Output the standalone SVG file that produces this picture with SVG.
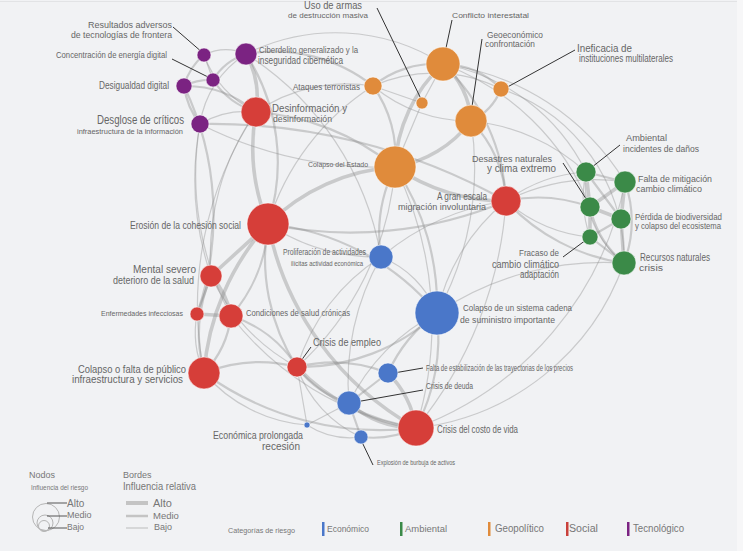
<svg xmlns="http://www.w3.org/2000/svg" width="743" height="551" viewBox="0 0 743 551">
<style>
text{font-family:"Liberation Sans",Arial,sans-serif;fill:#666}
.lg{fill:#777}
#edges path{fill:none;stroke:#8a8a8a;stroke-opacity:.38;stroke-linecap:round}
.e1{stroke-width:1.2}.e2{stroke-width:2.2}.e3{stroke-width:3.6}
.ld{stroke:#333;stroke-width:1;fill:none}
circle{stroke:#fff;stroke-opacity:.55;stroke-width:1}
.tec{fill:#7b2382}.soc{fill:#d63e39}.geo{fill:#e08b3b}.eco{fill:#4a77c9}.env{fill:#3b8a48}
.lc{fill:none;stroke:#b5b5b5;stroke-opacity:1}
</style>
<rect width="743" height="551" fill="#f1f2f4"/>
<line x1="0" y1="1.5" x2="743" y2="1.5" stroke="#e2e3e5"/>
<rect x="737" y="0" width="6" height="551" fill="#f7f7f8"/>
<g id="edges">
<path class="e1" d="M204 55A50 50 0 0 1 246 54"/>
<path class="e1" d="M204 55L213 80"/>
<path class="e2" d="M204 55A60 60 0 0 0 184 86"/>
<path class="e2" d="M184 86A60 60 0 0 1 213 80"/>
<path class="e2" d="M213 80A60 60 0 0 1 246 54"/>
<path class="e2" d="M184 86A80 80 0 0 0 200 124"/>
<path class="e3" d="M246 54A90 90 0 0 1 256 112"/>
<path class="e2" d="M213 80A80 80 0 0 0 256 112"/>
<path class="e2" d="M184 86A110 110 0 0 1 256 112"/>
<path class="e1" d="M200 124A90 90 0 0 1 256 112"/>
<path class="e1" d="M204 55A100 100 0 0 0 256 112"/>
<path class="e1" d="M246 54A100 100 0 0 0 200 124"/>
<path class="e1" d="M246 54A200 200 0 0 1 443 64"/>
<path class="e2" d="M246 54A160 160 0 0 1 373 86"/>
<path class="e1" d="M256 112A160 160 0 0 1 373 86"/>
<path class="e2" d="M200 124A600 600 0 0 1 506 201"/>
<path class="e1" d="M200 124A300 300 0 0 0 211 276"/>
<path class="e2" d="M184 86A300 300 0 0 1 197 314"/>
<path class="e1" d="M256 112A350 350 0 0 0 204 373"/>
<path class="e2" d="M246 54A200 200 0 0 1 268 224"/>
<path class="e3" d="M256 112A200 200 0 0 0 268 224"/>
<path class="e2" d="M256 112A250 250 0 0 1 395 167"/>
<path class="e1" d="M256 112A250 250 0 0 0 211 276"/>
<path class="e1" d="M200 124A300 300 0 0 0 231 316"/>
<path class="e1" d="M246 54A300 300 0 0 1 381 257"/>
<path class="e1" d="M200 124A400 400 0 0 0 395 167"/>
<path class="e2" d="M443 64A100 100 0 0 0 373 86"/>
<path class="e3" d="M443 64A80 80 0 0 1 471 121"/>
<path class="e1" d="M443 64L422 103"/>
<path class="e2" d="M443 64A80 80 0 0 1 501 89"/>
<path class="e3" d="M443 64A150 150 0 0 0 395 167"/>
<path class="e2" d="M373 86A120 120 0 0 1 395 167"/>
<path class="e1" d="M373 86A150 150 0 0 0 471 121"/>
<path class="e1" d="M422 103L395 167"/>
<path class="e2" d="M501 89A60 60 0 0 1 471 121"/>
<path class="e3" d="M471 121A120 120 0 0 1 395 167"/>
<path class="e2" d="M471 121A120 120 0 0 1 506 201"/>
<path class="e3" d="M395 167A200 200 0 0 0 506 201"/>
<path class="e3" d="M395 167A200 200 0 0 0 268 224"/>
<path class="e2" d="M395 167A150 150 0 0 0 381 257"/>
<path class="e2" d="M395 167A250 250 0 0 1 437 313"/>
<path class="e2" d="M443 64A200 200 0 0 1 506 201"/>
<path class="e1" d="M501 89A180 180 0 0 1 624 263"/>
<path class="e1" d="M443 64A250 250 0 0 1 625 182"/>
<path class="e1" d="M373 86A150 150 0 0 1 501 89"/>
<path class="e1" d="M471 121A300 300 0 0 1 437 313"/>
<path class="e1" d="M443 64A250 250 0 0 1 590 207"/>
<path class="e1" d="M373 86A250 250 0 0 0 268 224"/>
<path class="e1" d="M395 167A300 300 0 0 1 297 367"/>
<path class="e1" d="M395 167A350 350 0 0 1 416 428"/>
<path class="e1" d="M373 86L422 103"/>
<path class="e2" d="M268 224A400 400 0 0 0 506 201"/>
<path class="e3" d="M268 224L211 276"/>
<path class="e2" d="M268 224A150 150 0 0 1 231 316"/>
<path class="e3" d="M268 224A250 250 0 0 0 204 373"/>
<path class="e2" d="M268 224A200 200 0 0 0 297 367"/>
<path class="e3" d="M268 224A300 300 0 0 0 416 428"/>
<path class="e1" d="M268 224A200 200 0 0 0 381 257"/>
<path class="e2" d="M268 224A250 250 0 0 1 437 313"/>
<path class="e3" d="M211 276A80 80 0 0 1 231 316"/>
<path class="e2" d="M211 276L197 314"/>
<path class="e3" d="M197 314L231 316"/>
<path class="e2" d="M231 316A100 100 0 0 1 204 373"/>
<path class="e2" d="M204 373A150 150 0 0 1 297 367"/>
<path class="e2" d="M204 373A300 300 0 0 0 416 428"/>
<path class="e3" d="M297 367A200 200 0 0 0 416 428"/>
<path class="e2" d="M297 367A100 100 0 0 0 349 403"/>
<path class="e2" d="M297 367A150 150 0 0 1 388 373"/>
<path class="e1" d="M297 367L307 425"/>
<path class="e2" d="M297 367A120 120 0 0 0 231 316"/>
<path class="e2" d="M211 276A150 150 0 0 0 204 373"/>
<path class="e1" d="M506 201A250 250 0 0 0 381 257"/>
<path class="e1" d="M506 201A200 200 0 0 0 437 313"/>
<path class="e2" d="M506 201A150 150 0 0 1 590 207"/>
<path class="e1" d="M506 201A150 150 0 0 1 586 172"/>
<path class="e1" d="M506 201A200 200 0 0 1 625 182"/>
<path class="e2" d="M506 201A200 200 0 0 0 624 263"/>
<path class="e1" d="M506 201A150 150 0 0 0 590 237"/>
<path class="e1" d="M506 201A400 400 0 0 1 416 428"/>
<path class="e1" d="M211 276A200 200 0 0 0 297 367"/>
<path class="e1" d="M231 316A300 300 0 0 0 416 428"/>
<path class="e1" d="M197 314A100 100 0 0 0 204 373"/>
<path class="e2" d="M437 313A150 150 0 0 0 388 373"/>
<path class="e2" d="M437 313A200 200 0 0 1 416 428"/>
<path class="e1" d="M437 313A200 200 0 0 0 349 403"/>
<path class="e3" d="M388 373A100 100 0 0 1 416 428"/>
<path class="e2" d="M388 373L349 403"/>
<path class="e3" d="M349 403A100 100 0 0 0 416 428"/>
<path class="e2" d="M349 403L361 437"/>
<path class="e2" d="M361 437A100 100 0 0 0 416 428"/>
<path class="e1" d="M307 425L349 403"/>
<path class="e1" d="M307 425A80 80 0 0 0 361 437"/>
<path class="e1" d="M381 257A100 100 0 0 1 437 313"/>
<path class="e1" d="M437 313A300 300 0 0 1 624 263"/>
<path class="e1" d="M416 428A250 250 0 0 0 624 263"/>
<path class="e2" d="M437 313A200 200 0 0 1 297 367"/>
<path class="e1" d="M381 257A200 200 0 0 0 297 367"/>
<path class="e1" d="M381 257A250 250 0 0 0 349 403"/>
<path class="e1" d="M297 367A120 120 0 0 0 361 437"/>
<path class="e1" d="M204 373A150 150 0 0 0 307 425"/>
<path class="e2" d="M586 172L625 182"/>
<path class="e3" d="M586 172L590 207"/>
<path class="e2" d="M586 172L621 219"/>
<path class="e3" d="M625 182L590 207"/>
<path class="e3" d="M625 182L621 219"/>
<path class="e2" d="M625 182A120 120 0 0 1 624 263"/>
<path class="e3" d="M590 207L621 219"/>
<path class="e3" d="M590 207L590 237"/>
<path class="e2" d="M621 219L590 237"/>
<path class="e3" d="M621 219L624 263"/>
<path class="e2" d="M590 237L624 263"/>
<path class="e2" d="M590 207A100 100 0 0 0 624 263"/>
<path class="e1" d="M586 172A100 100 0 0 0 624 263"/>
<path class="e1" d="M586 172A120 120 0 0 0 590 237"/>
<path class="e1" d="M471 121A200 200 0 0 1 586 172"/>
<path class="e1" d="M416 428A330 330 0 0 0 625 182"/>
<path class="e1" d="M443 64A200 200 0 0 1 586 172"/>
</g>
<g id="n-resultados"><line class="ld" x1="173" y1="27" x2="203" y2="53"/><circle class="tec" cx="204" cy="55" r="7"/><text x="88" y="27.5" font-size="9.5" textLength="84" lengthAdjust="spacingAndGlyphs">Resultados adversos</text><text x="71" y="37.5" font-size="9.5" textLength="101" lengthAdjust="spacingAndGlyphs">de tecnologías de frontera</text></g>
<g id="n-ciberdelito"><circle class="tec" cx="246" cy="54" r="11"/><text x="259" y="52.5" font-size="8.5" textLength="99" lengthAdjust="spacingAndGlyphs">Ciberdelito generalizado y la</text><text x="258" y="63.5" font-size="10" textLength="85" lengthAdjust="spacingAndGlyphs">inseguridad cibernética</text></g>
<g id="n-concentracion"><line class="ld" x1="172" y1="59" x2="212" y2="79"/><circle class="tec" cx="213" cy="80" r="7"/><text x="56" y="58" font-size="9" textLength="111" lengthAdjust="spacingAndGlyphs">Concentración de energía digital</text></g>
<g id="n-desigualdad"><circle class="tec" cx="184" cy="86" r="8"/><text x="99" y="89" font-size="10" textLength="70" lengthAdjust="spacingAndGlyphs">Desigualdad digital</text></g>
<g id="n-desglose"><circle class="tec" cx="200" cy="124" r="9"/><text x="97" y="123.5" font-size="12" textLength="87" lengthAdjust="spacingAndGlyphs">Desglose de críticos</text><text x="77" y="133.5" font-size="7.5" textLength="106" lengthAdjust="spacingAndGlyphs">infraestructura de la información</text></g>
<g id="n-desinformacion"><circle class="soc" cx="256" cy="112" r="15"/><text x="272" y="111.5" font-size="11" textLength="75" lengthAdjust="spacingAndGlyphs">Desinformación y</text><text x="273" y="121.5" font-size="8.5" textLength="59" lengthAdjust="spacingAndGlyphs">desinformación</text></g>
<g id="n-armas"><line class="ld" x1="377" y1="8" x2="422" y2="101"/><circle class="geo" cx="422" cy="103" r="6"/><text x="304" y="9" font-size="10" textLength="58" lengthAdjust="spacingAndGlyphs">Uso de armas</text><text x="288" y="18" font-size="8" textLength="80" lengthAdjust="spacingAndGlyphs">de destrucción masiva</text></g>
<g id="n-ataques"><circle class="geo" cx="373" cy="86" r="9"/><text x="293" y="90" font-size="9.5" textLength="67" lengthAdjust="spacingAndGlyphs">Ataques terroristas</text></g>
<g id="n-conflicto"><line class="ld" x1="452" y1="20" x2="443" y2="62"/><circle class="geo" cx="443" cy="64" r="17"/><text x="452" y="18" font-size="8" textLength="77" lengthAdjust="spacingAndGlyphs">Conflicto interestatal</text></g>
<g id="n-geoeconomico"><line class="ld" x1="482" y1="39" x2="470" y2="120"/><circle class="geo" cx="471" cy="121" r="16"/><text x="487" y="37.5" font-size="9.5" textLength="56" lengthAdjust="spacingAndGlyphs">Geoeconómico</text><text x="485" y="47" font-size="8.5" textLength="50" lengthAdjust="spacingAndGlyphs">confrontación</text></g>
<g id="n-ineficacia"><line class="ld" x1="575" y1="50" x2="502" y2="90"/><circle class="geo" cx="501" cy="89" r="8"/><text x="577" y="51.5" font-size="11.5" textLength="55" lengthAdjust="spacingAndGlyphs">Ineficacia de</text><text x="579" y="62" font-size="10" textLength="94" lengthAdjust="spacingAndGlyphs">instituciones multilaterales</text></g>
<g id="n-estado"><circle class="geo" cx="395" cy="167" r="21"/><text x="308" y="167" font-size="8" textLength="60" lengthAdjust="spacingAndGlyphs">Colapso del Estado</text></g>
<g id="n-migracion"><circle class="soc" cx="506" cy="201" r="15"/><text x="437" y="199.5" font-size="10" textLength="50" lengthAdjust="spacingAndGlyphs">A gran escala</text><text x="398" y="209.5" font-size="9.5" textLength="88" lengthAdjust="spacingAndGlyphs">migración involuntaria</text></g>
<g id="n-ambiental"><line class="ld" x1="620" y1="145" x2="587" y2="171"/><circle class="env" cx="586" cy="172" r="10"/><text x="626" y="141" font-size="8.5" textLength="41" lengthAdjust="spacingAndGlyphs">Ambiental</text><text x="623" y="152" font-size="9" textLength="76" lengthAdjust="spacingAndGlyphs">incidentes de daños</text></g>
<g id="n-mitigacion"><circle class="env" cx="625" cy="182" r="11"/><text x="638" y="181.5" font-size="9.5" textLength="74" lengthAdjust="spacingAndGlyphs">Falta de mitigación</text><text x="636" y="191.5" font-size="9.5" textLength="66" lengthAdjust="spacingAndGlyphs">cambio climático</text></g>
<g id="n-desastres"><line class="ld" x1="563" y1="163" x2="590" y2="205"/><circle class="env" cx="590" cy="207" r="10"/><text x="472" y="161.5" font-size="9.5" textLength="80" lengthAdjust="spacingAndGlyphs">Desastres naturales</text><text x="487" y="172" font-size="10" textLength="69" lengthAdjust="spacingAndGlyphs">y clima extremo</text></g>
<g id="n-biodiversidad"><circle class="env" cx="621" cy="219" r="10"/><text x="635" y="219.5" font-size="9" textLength="87" lengthAdjust="spacingAndGlyphs">Pérdida de biodiversidad</text><text x="635" y="229" font-size="9" textLength="86" lengthAdjust="spacingAndGlyphs">y colapso del ecosistema</text></g>
<g id="n-adaptacion"><line class="ld" x1="563" y1="257" x2="590" y2="237"/><circle class="env" cx="590" cy="237" r="8"/><text x="519" y="256" font-size="8.5" textLength="40" lengthAdjust="spacingAndGlyphs">Fracaso de</text><text x="492" y="267.5" font-size="10.5" textLength="67" lengthAdjust="spacingAndGlyphs">cambio climático</text><text x="520" y="278" font-size="10" textLength="39" lengthAdjust="spacingAndGlyphs">adaptación</text></g>
<g id="n-recursos"><circle class="env" cx="624" cy="263" r="12"/><text x="640" y="261" font-size="10" textLength="70" lengthAdjust="spacingAndGlyphs">Recursos naturales</text><text x="639" y="270.5" font-size="8.5" textLength="24" lengthAdjust="spacingAndGlyphs">crisis</text></g>
<g id="n-erosion"><circle class="soc" cx="268" cy="224" r="21"/><text x="130" y="229" font-size="10" textLength="111" lengthAdjust="spacingAndGlyphs">Erosión de la cohesión social</text></g>
<g id="n-proliferacion"><circle class="eco" cx="381" cy="257" r="12"/><text x="283" y="255" font-size="8.5" textLength="83" lengthAdjust="spacingAndGlyphs">Proliferación de actividades</text><text x="291" y="266" font-size="7.5" textLength="72" lengthAdjust="spacingAndGlyphs">ilícitas actividad económica</text></g>
<g id="n-mental"><circle class="soc" cx="211" cy="276" r="11"/><text x="133" y="273" font-size="11" textLength="63" lengthAdjust="spacingAndGlyphs">Mental severo</text><text x="113" y="284" font-size="10" textLength="81" lengthAdjust="spacingAndGlyphs">deterioro de la salud</text></g>
<g id="n-infecciosas"><circle class="soc" cx="197" cy="314" r="7"/><text x="101" y="316" font-size="8" textLength="82" lengthAdjust="spacingAndGlyphs">Enfermedades infecciosas</text></g>
<g id="n-cronicas"><circle class="soc" cx="231" cy="316" r="12"/><text x="246" y="316" font-size="9" textLength="104" lengthAdjust="spacingAndGlyphs">Condiciones de salud crónicas</text></g>
<g id="n-infraestructura"><circle class="soc" cx="204" cy="373" r="16"/><text x="78" y="372.5" font-size="10.5" textLength="108" lengthAdjust="spacingAndGlyphs">Colapso o falta de público</text><text x="72" y="383" font-size="10" textLength="111" lengthAdjust="spacingAndGlyphs">infraestructura y servicios</text></g>
<g id="n-empleo"><line class="ld" x1="311" y1="347" x2="298" y2="365"/><circle class="soc" cx="297" cy="367" r="10"/><text x="313" y="346" font-size="10" textLength="68" lengthAdjust="spacingAndGlyphs">Crisis de empleo</text></g>
<g id="n-suministro"><circle class="eco" cx="437" cy="313" r="22"/><text x="463" y="311" font-size="9" textLength="109" lengthAdjust="spacingAndGlyphs">Colapso de un sistema cadena</text><text x="460" y="322.5" font-size="9.5" textLength="95" lengthAdjust="spacingAndGlyphs">de suministro importante</text></g>
<g id="n-precios"><line class="ld" x1="423" y1="368" x2="388" y2="374"/><circle class="eco" cx="388" cy="373" r="10"/><text x="426" y="371" font-size="9" textLength="147" lengthAdjust="spacingAndGlyphs">Falta de estabilización de las trayectorias de los precios</text></g>
<g id="n-deuda"><line class="ld" x1="423" y1="390" x2="350" y2="403"/><circle class="eco" cx="349" cy="403" r="12"/><text x="426" y="389" font-size="8.5" textLength="47" lengthAdjust="spacingAndGlyphs">Crisis de deuda</text></g>
<g id="n-costo"><circle class="soc" cx="416" cy="428" r="18"/><text x="437" y="433" font-size="10" textLength="81" lengthAdjust="spacingAndGlyphs">Crisis del costo de vida</text></g>
<g id="n-recesion"><circle class="eco" cx="307" cy="425" r="3"/><text x="213" y="439" font-size="10" textLength="90" lengthAdjust="spacingAndGlyphs">Económica prolongada</text><text x="262" y="449.5" font-size="10" textLength="38" lengthAdjust="spacingAndGlyphs">recesión</text></g>
<g id="n-burbuja"><line class="ld" x1="373" y1="465" x2="361" y2="440"/><circle class="eco" cx="361" cy="437" r="7"/><text x="377" y="465" font-size="7" textLength="78" lengthAdjust="spacingAndGlyphs">Explosión de burbuja de activos</text></g>
<g id="legend">
<text class="lg" x="29" y="478" font-size="9">Nodos</text>
<text class="lg" x="31" y="490" font-size="6.5" textLength="57" lengthAdjust="spacingAndGlyphs">Influencia del riesgo</text>
<circle class="lc" cx="46" cy="517" r="13.5"/><circle class="lc" cx="45" cy="523" r="8"/><circle class="lc" cx="44" cy="526" r="5.5"/>
<g stroke="#555" stroke-width="1"><line x1="47" y1="503" x2="67" y2="503"/><line x1="47" y1="516" x2="67" y2="516"/><line x1="48" y1="528" x2="67" y2="528"/></g>
<text class="lg" x="67" y="507" font-size="10">Alto</text>
<text class="lg" x="67" y="518" font-size="9">Medio</text>
<text class="lg" x="67" y="529.5" font-size="8.5">Bajo</text>
<text class="lg" x="123" y="478" font-size="9">Bordes</text>
<text class="lg" x="123" y="490" font-size="10" textLength="73" lengthAdjust="spacingAndGlyphs">Influencia relativa</text>
<g stroke="#c4c4c4"><line x1="126" y1="503" x2="148" y2="503" stroke-width="4"/><line x1="126" y1="516" x2="148" y2="516" stroke-width="2.5"/><line x1="126" y1="528" x2="148" y2="528" stroke-width="1.2"/></g>
<text class="lg" x="153" y="507" font-size="11">Alto</text>
<text class="lg" x="153" y="518.5" font-size="9.5">Medio</text>
<text class="lg" x="154" y="530" font-size="9">Bajo</text>
<text class="lg" x="228" y="533" font-size="7.5" textLength="67" lengthAdjust="spacingAndGlyphs">Categorías de riesgo</text>
<rect x="322" y="522" width="2.5" height="14" fill="#4a77c9"/><text class="lg" x="327" y="532" font-size="9" textLength="42" lengthAdjust="spacingAndGlyphs">Económico</text>
<rect x="400" y="522" width="2.5" height="14" fill="#3b8a48"/><text class="lg" x="405" y="532" font-size="9" textLength="42" lengthAdjust="spacingAndGlyphs">Ambiental</text>
<rect x="488" y="522" width="2.5" height="14" fill="#e08b3b"/><text class="lg" x="495" y="532" font-size="10" textLength="49" lengthAdjust="spacingAndGlyphs">Geopolítico</text>
<rect x="566" y="522" width="2.5" height="14" fill="#c9403b"/><text class="lg" x="569" y="532" font-size="10" textLength="29" lengthAdjust="spacingAndGlyphs">Social</text>
<rect x="627" y="522" width="2.5" height="14" fill="#7b2382"/><text class="lg" x="633" y="532" font-size="10" textLength="51" lengthAdjust="spacingAndGlyphs">Tecnológico</text>
</g>
</svg>
